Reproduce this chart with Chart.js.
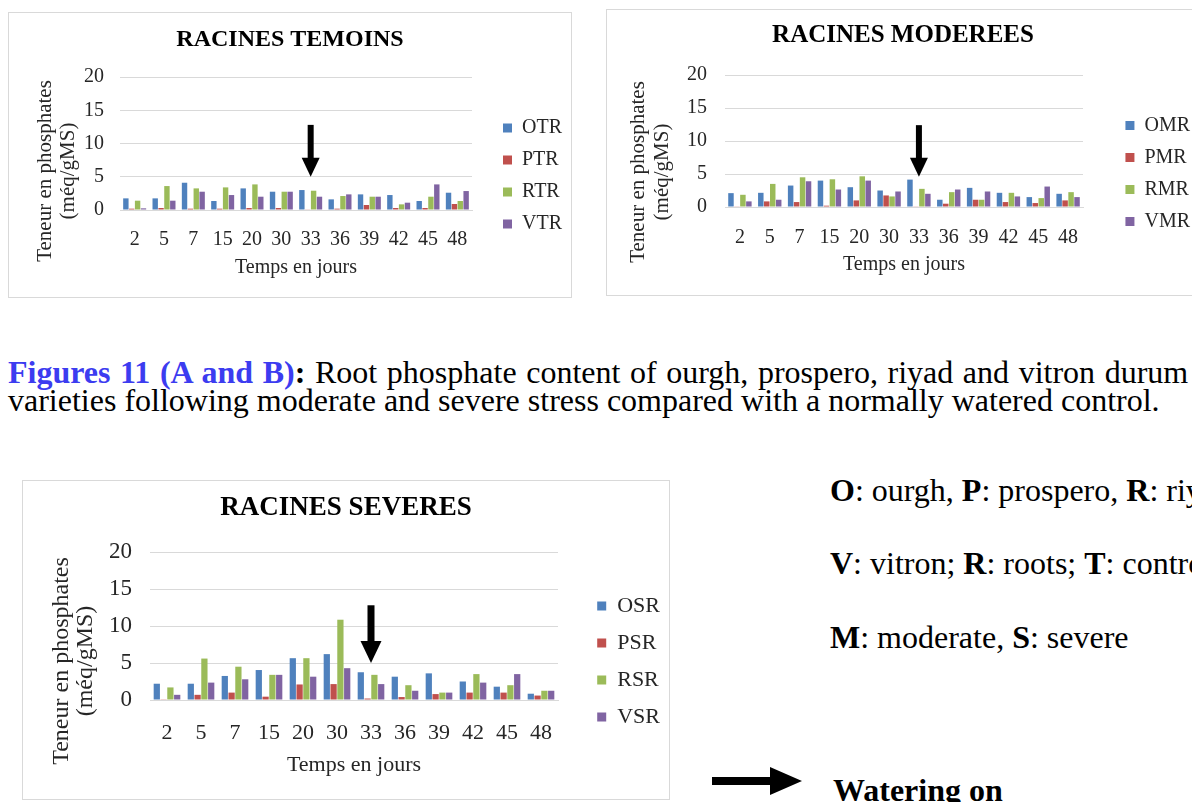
<!DOCTYPE html>
<html>
<head>
<meta charset="utf-8">
<script src="https://cdn.jsdelivr.net/npm/chart.js@4.4.1/dist/chart.umd.min.js"></script>
<style>
  html, body { margin: 0; padding: 0; background: #fff; }
  body { width: 1192px; height: 802px; overflow: hidden; position: relative;
         font-family: "Liberation Serif", "Times New Roman", serif; color: #000; }
  .box { position: absolute; background: #fff; outline: 1px solid #d9d9d9; outline-offset: -1px; }
  .box canvas { position: absolute; left: 0; top: 0; }
  .txt { position: absolute; white-space: nowrap; }
  .cap { font-size: 32px; line-height: 28px; height: 28px; left: 8px; }
  .note { font-size: 32px; line-height: 30px; left: 830px; }
  .blue { color: #3c3cf0; }
</style>
</head>
<body>

<div class="box" style="left:8px;top:12px;width:564px;height:286px"><canvas id="chartA" width="564" height="286"></canvas></div>
<div class="box" style="left:606px;top:9px;width:594px;height:287px"><canvas id="chartB" width="594" height="287"></canvas></div>
<div class="box" style="left:22px;top:480px;width:648px;height:320px"><canvas id="chartC" width="648" height="320"></canvas></div>

<div class="txt cap" style="top:358px;word-spacing:1.6px"><b class="blue">Figures 11 (A and B)</b><b>:</b> Root phosphate content of ourgh, prospero, riyad and vitron durum wheat</div>
<div class="txt cap" style="top:386px">varieties following moderate and severe stress compared with a normally watered control.</div>

<div class="txt note" style="top:475px"><b>O</b>: ourgh, <b>P</b>: prospero, <b>R</b>: riyad,</div>
<div class="txt note" style="top:548px"><b>V</b>: vitron; <b>R</b>: roots; <b>T</b>: control</div>
<div class="txt note" style="top:622px"><b>M</b>: moderate, <b>S</b>: severe</div>
<svg style="position:absolute;left:712px;top:765px" width="92" height="34">
  <polygon points="0,12 58,12 58,2 90,16 58,30 58,20 0,20" fill="#000"/>
</svg>
<div class="txt note" style="top:775px;left:833px"><b>Watering on</b></div>

<script>
// ---- data (méq/gMS) ----
const days = ['2', '5', '7', '15', '20', '30', '33', '36', '39', '42', '45', '48'];
const wateringDay = '33';

// A : témoins
const otr = [1.75, 1.75, 4.1, 1.35, 3.25, 2.75, 3.0, 1.6, 2.35, 2.25, 1.35, 2.6];
const ptr = [0.2, 0.3, 0.2, 0.2, 0.3, 0.3, 0.1, 0.2, 0.75, 0.3, 0.3, 0.9];
const rtr = [1.4, 3.6, 3.25, 3.4, 3.85, 2.75, 2.9, 2.1, 2.0, 0.85, 2.0, 1.35];
const vtr = [0.25, 1.4, 2.75, 2.25, 2.0, 2.75, 2.0, 2.35, 2.0, 1.1, 3.85, 2.85];

// B : modérées
const omr = [2.1, 2.15, 3.25, 4.0, 3.0, 2.5, 4.15, 1.1, 2.9, 2.15, 1.5, 2.0];
const pmr = [0.1, 0.85, 0.75, 0.2, 1.0, 1.75, 0.1, 0.5, 1.1, 0.75, 0.6, 1.0];
const rmr = [1.85, 3.5, 4.5, 4.2, 4.65, 1.6, 2.75, 2.25, 1.1, 2.15, 1.35, 2.25];
const vmr = [0.85, 1.1, 3.9, 2.65, 4.0, 2.35, 2.0, 2.65, 2.35, 1.6, 3.1, 1.5];

// C : sévères
const osr = [2.2, 2.2, 3.25, 4.05, 5.65, 6.2, 3.75, 3.15, 3.6, 2.5, 1.8, 0.85];
const psr = [0.1, 0.7, 1.0, 0.45, 2.1, 2.15, 0.2, 0.4, 0.8, 1.0, 1.0, 0.6];
const rsr = [1.7, 5.6, 4.5, 3.4, 5.65, 10.85, 3.4, 2.0, 1.0, 3.5, 2.0, 1.25];
const vsr = [0.7, 2.35, 2.8, 3.4, 3.15, 4.3, 2.15, 1.25, 1.0, 2.35, 3.5, 1.25];

const yTicks = [0, 5, 10, 15, 20];
const colors = ['#4f81bd', '#c0504d', '#9bbb59', '#8064a2'];
const yTitle = ['Teneur en phosphates', '(méq/gMS)'];
const xTitle = 'Temps en jours';

Chart.defaults.font.family = '"Liberation Serif", "Times New Roman", serif';
Chart.defaults.color = '#262626';

// y title (offset like in Excel) + watering arrow at day 33
const extras = {
    id: 'extras',
    afterDraw(chart, args, o) {
        const ctx = chart.ctx;
        const xs = chart.scales.x, ys = chart.scales.y;
        ctx.save();
        ctx.fillStyle = '#262626';
        ctx.font = o.yTitleSize + 'px "Liberation Serif"';
        ctx.textAlign = 'center';
        ctx.textBaseline = 'middle';
        yTitle.forEach((line, i) => {
            ctx.save();
            ctx.translate(o.yTitleX[i], o.yTitleY);
            ctx.rotate(-Math.PI / 2);
            ctx.fillText(line, 0, 0);
            ctx.restore();
        });

        const ax = xs.getPixelForValue(days.indexOf(wateringDay));
        const y0 = ys.getPixelForValue(o.arrowFrom);
        const y1 = ys.getPixelForValue(o.arrowTo);
        ctx.fillStyle = '#000';
        ctx.fillRect(ax - o.shaft / 2, y0, o.shaft, y1 - y0 - o.head + 1);
        ctx.beginPath();
        ctx.moveTo(ax - o.headW / 2, y1 - o.head);
        ctx.lineTo(ax + o.headW / 2, y1 - o.head);
        ctx.lineTo(ax, y1);
        ctx.closePath();
        ctx.fill();
        ctx.restore();
    }
};

function buildChart(id, title, names, series, L) {
    // legend title is only a spacer to push the items down
    const s = L.legendSize + L.legendPad;
    const start = L.legendMid - 1.5 * s - L.legendSize / 2;
    const legendTitleH = 2 * start - L.legendPad - L.h + 4 * s;

    return new Chart(document.getElementById(id), {
        type: 'bar',
        data: {
            labels: days,
            datasets: series.map((d, i) => ({
                label: names[i],
                data: d,
                backgroundColor: colors[i],
                borderWidth: 0,
                categoryPercentage: 0.8,
                barPercentage: 0.92
            }))
        },
        options: {
            responsive: false,
            animation: false,
            devicePixelRatio: 1,
            layout: { padding: 0 },
            plugins: {
                tooltip: { enabled: false },
                title: {
                    display: true,
                    text: title,
                    color: '#000',
                    font: { size: L.titleSize, weight: 'bold', lineHeight: 1.2 },
                    padding: {
                        top: L.titleCenter - L.titleSize * 0.6,
                        bottom: L.plotTop - L.titleCenter - L.titleSize * 0.6
                    }
                },
                legend: {
                    position: 'right',
                    title: { display: true, text: '', font: { size: 1, lineHeight: 1 }, padding: { top: legendTitleH - 1, bottom: 0 } },
                    labels: {
                        boxWidth: 9,
                        boxHeight: 9,
                        padding: L.legendPad,
                        color: '#262626',
                        font: { size: L.legendSize }
                    }
                },
                extras: L
            },
            scales: {
                x: {
                    grid: { display: false, drawTicks: false },
                    border: { display: true, color: '#d9d9d9' },
                    ticks: { padding: L.xTickPad, font: { size: L.tickSize }, color: '#262626', maxRotation: 0, autoSkip: false },
                    title: {
                        display: true,
                        text: xTitle,
                        color: '#262626',
                        font: { size: L.xTitleSize, lineHeight: 1.2 },
                        padding: { top: L.xTitlePad, bottom: L.xTitlePad }
                    },
                    afterFit: sc => { sc.height = L.h - L.plotBottom; }
                },
                y: {
                    min: 0,
                    max: 20,
                    afterBuildTicks: sc => { sc.ticks = yTicks.map(v => ({ value: v })); },
                    grid: { color: '#d9d9d9', drawTicks: false },
                    border: { display: false },
                    ticks: { padding: L.yTickPad, font: { size: L.yTickSize }, color: '#262626' },
                    afterFit: sc => { sc.width = L.plotLeft; }
                },
                gap: {
                    type: 'linear',
                    position: 'right',
                    grid: { display: false, drawTicks: false },
                    border: { display: false },
                    ticks: { display: false },
                    afterFit: sc => { sc.width = Math.max(0, L.w - sc.chart.legend.width - L.plotRight); }
                }
            }
        },
        plugins: [extras]
    });
}

buildChart('chartA', 'RACINES TEMOINS', ['OTR', 'PTR', 'RTR', 'VTR'], [otr, ptr, rtr, vtr], {
    w: 564, h: 286, plotLeft: 112, plotRight: 464, plotTop: 65, plotBottom: 198,
    titleSize: 24, titleCenter: 28, tickSize: 20, yTickSize: 20, yTickPad: 16, xTickPad: 18,
    xTitleSize: 20, xTitlePad: 18, yTitleSize: 21, yTitleX: [37, 60], yTitleY: 159,
    legendSize: 20, legendPad: 12, legendMid: 164,
    arrowFrom: 12.8, arrowTo: 5.0, shaft: 6, headW: 18, head: 19
});

buildChart('chartB', 'RACINES MODEREES', ['OMR', 'PMR', 'RMR', 'VMR'], [omr, pmr, rmr, vmr], {
    w: 594, h: 287, plotLeft: 119, plotRight: 477, plotTop: 66, plotBottom: 198,
    titleSize: 25, titleCenter: 27, tickSize: 20, yTickSize: 20, yTickPad: 18, xTickPad: 19,
    xTitleSize: 20, xTitlePad: 19, yTitleSize: 21, yTitleX: [32, 56], yTitleY: 163,
    legendSize: 20, legendPad: 12, legendMid: 164.5,
    arrowFrom: 12.4, arrowTo: 4.6, shaft: 6, headW: 18, head: 19
});

buildChart('chartC', 'RACINES SEVERES', ['OSR', 'PSR', 'RSR', 'VSR'], [osr, psr, rsr, vsr], {
    w: 648, h: 320, plotLeft: 128, plotRight: 536, plotTop: 72, plotBottom: 220,
    titleSize: 27, titleCenter: 28, tickSize: 22, yTickSize: 23, yTickPad: 18, xTickPad: 20,
    xTitleSize: 22, xTitlePad: 22, yTitleSize: 24, yTitleX: [40, 64], yTitleY: 181,
    legendSize: 22, legendPad: 15, legendMid: 181.5,
    arrowFrom: 12.8, arrowTo: 5.0, shaft: 7, headW: 21, head: 22
});
</script>
</body>
</html>
